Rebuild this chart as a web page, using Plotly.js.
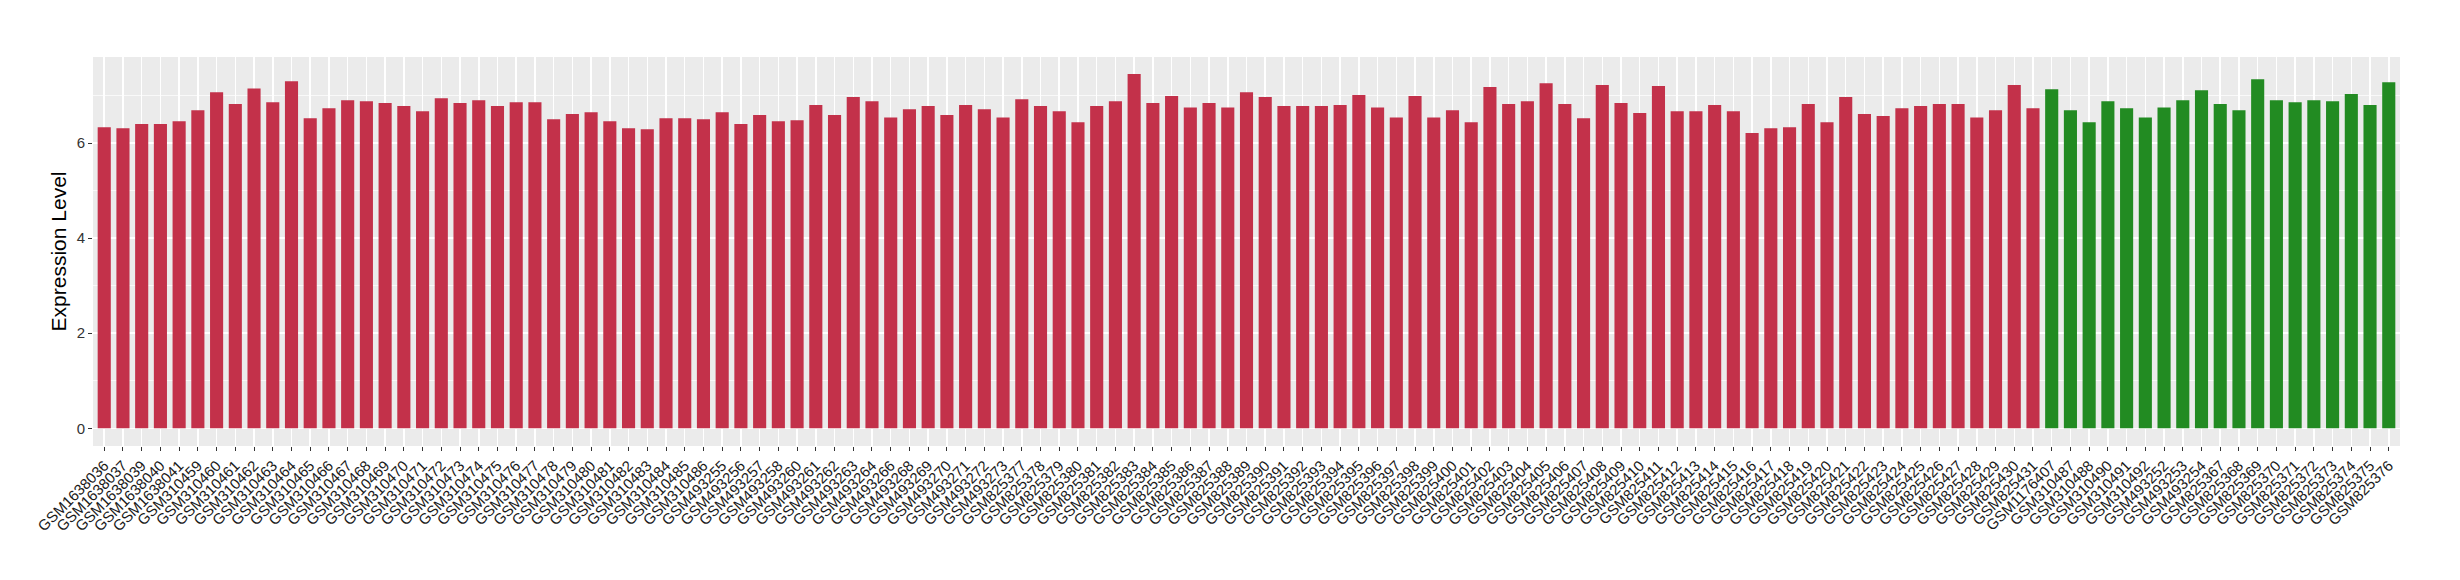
<!DOCTYPE html>
<html>
<head>
<meta charset="utf-8">
<script src="https://cdn.plot.ly/plotly-3.0.1.min.js"></script>
<style>
  html, body { margin: 0; padding: 0; background: #ffffff; }
  #chart { width: 2460px; height: 580px; }
</style>
</head>
<body>
<div id="chart"></div>
<script>
const samples = [
  "GSM1638036","GSM1638037","GSM1638039","GSM1638040","GSM1638041",
  "GSM310459","GSM310460","GSM310461","GSM310462","GSM310463","GSM310464","GSM310465",
  "GSM310466","GSM310467","GSM310468","GSM310469","GSM310470","GSM310471","GSM310472",
  "GSM310473","GSM310474","GSM310475","GSM310476","GSM310477","GSM310478","GSM310479",
  "GSM310480","GSM310481","GSM310482","GSM310483","GSM310484","GSM310485","GSM310486",
  "GSM493255","GSM493256","GSM493257","GSM493258","GSM493260","GSM493261","GSM493262",
  "GSM493263","GSM493264","GSM493266","GSM493268","GSM493269","GSM493270","GSM493271",
  "GSM493272","GSM493273",
  "GSM825377","GSM825378","GSM825379","GSM825380","GSM825381","GSM825382","GSM825383",
  "GSM825384","GSM825385","GSM825386","GSM825387","GSM825388","GSM825389","GSM825390",
  "GSM825391","GSM825392","GSM825393","GSM825394","GSM825395","GSM825396","GSM825397",
  "GSM825398","GSM825399","GSM825400","GSM825401","GSM825402","GSM825403","GSM825404",
  "GSM825405","GSM825406","GSM825407","GSM825408","GSM825409","GSM825410","GSM825411",
  "GSM825412","GSM825413","GSM825414","GSM825415","GSM825416","GSM825417","GSM825418",
  "GSM825419","GSM825420","GSM825421","GSM825422","GSM825423","GSM825424","GSM825425",
  "GSM825426","GSM825427","GSM825428","GSM825429","GSM825430","GSM825431",
  "GSM1176407","GSM310487","GSM310488","GSM310490","GSM310491","GSM310492",
  "GSM493252","GSM493253","GSM493254",
  "GSM825367","GSM825368","GSM825369","GSM825370","GSM825371","GSM825372","GSM825373",
  "GSM825374","GSM825375","GSM825376"
];

const expression = [
  6.33, 6.31, 6.40, 6.40, 6.46, 6.69, 7.07, 6.82, 7.15, 6.86,
  7.30, 6.52, 6.73, 6.90, 6.88, 6.84, 6.78, 6.67, 6.94, 6.84,
  6.90, 6.78, 6.86, 6.86, 6.50, 6.61, 6.65, 6.46, 6.31, 6.29,
  6.52, 6.52, 6.50, 6.65, 6.40, 6.59, 6.46, 6.48, 6.80, 6.59,
  6.97, 6.88, 6.54, 6.71, 6.78, 6.59, 6.80, 6.71, 6.54, 6.92,
  6.78, 6.67, 6.44, 6.78, 6.88, 7.45, 6.84, 6.99, 6.75, 6.84,
  6.75, 7.07, 6.97, 6.78, 6.78, 6.78, 6.80, 7.01, 6.75, 6.54,
  6.99, 6.54, 6.69, 6.44, 7.18, 6.82, 6.88, 7.26, 6.82, 6.52,
  7.22, 6.84, 6.63, 7.20, 6.67, 6.67, 6.80, 6.67, 6.21, 6.31,
  6.33, 6.82, 6.44, 6.97, 6.61, 6.57, 6.73, 6.78, 6.82, 6.82,
  6.54, 6.69, 7.22, 6.73,
  7.13, 6.69, 6.44, 6.88, 6.73, 6.54, 6.75, 6.90, 7.11, 6.82,
  6.69, 7.34, 6.90, 6.86, 6.90, 6.88, 7.03, 6.80, 7.28
];

const groupSizes = { red: 104, green: 19 };
const groupColors = { red: "#C3314A", green: "#228B22" };

const group = [];
for (let i = 0; i < groupSizes.red; i++) group.push("red");
for (let i = 0; i < groupSizes.green; i++) group.push("green");
const barColors = group.map(g => groupColors[g]);

const font = "Liberation Sans, Arial, Helvetica, sans-serif";

const trace = {
  type: "bar",
  x: samples,
  y: expression,
  marker: { color: barColors, line: { width: 0 } },
  hoverinfo: "x+y",
  showlegend: false
};

const layout = {
  width: 2460,
  height: 580,
  margin: { l: 93, r: 60, t: 57, b: 134 },
  paper_bgcolor: "#ffffff",
  plot_bgcolor: "#EBEBEB",
  bargap: 0.3,
  font: { family: font, color: "#4D4D4D", size: 15 },
  xaxis: {
    type: "category",
    range: [-0.6, samples.length - 0.4],
    tickmode: "array",
    tickvals: samples,
    ticktext: samples,
    tickangle: -45,
    tickfont: { family: font, size: 15, color: "#1a1a1a" },
    showgrid: true,
    gridcolor: "#ffffff",
    gridwidth: 1.5,
    ticks: "outside",
    ticklen: 4,
    tickwidth: 1,
    tickcolor: "#333333",
    showline: false,
    zeroline: false,
    automargin: false
  },
  yaxis: {
    range: [-0.372, 7.81],
    tickmode: "linear",
    tick0: 0,
    dtick: 2,
    tickfont: { family: font, size: 15, color: "#333333" },
    showgrid: true,
    gridcolor: "#ffffff",
    gridwidth: 1.5,
    minor: { dtick: 1, tick0: 0, showgrid: true, gridcolor: "#ffffff", gridwidth: 0.7 },
    ticks: "outside",
    ticklen: 4,
    tickwidth: 1,
    tickcolor: "#333333",
    zeroline: false,
    showline: false,
    automargin: false,
    title: { text: "Expression Level", font: { family: font, size: 21, color: "#000000" }, standoff: 4 }
  }
};

Plotly.newPlot("chart", [trace], layout, { displayModeBar: false, staticPlot: true });
</script>
</body>
</html>
